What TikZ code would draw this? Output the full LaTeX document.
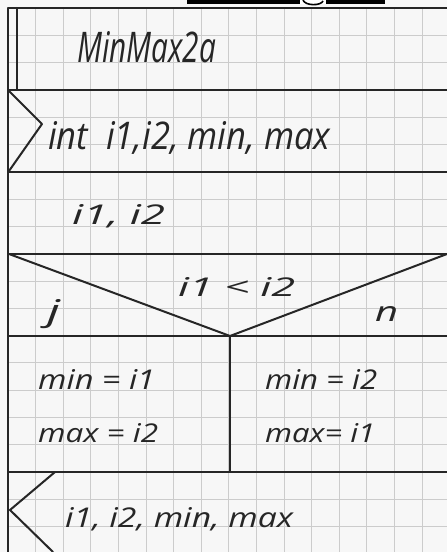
\documentclass[tikz,border=0pt]{standalone}
\usepackage{fontspec}
\setmainfont{Open Sans}
\usepackage{graphicx}
\newcommand{\hwtext}[3]{\resizebox{#1pt}{#2pt}{\itshape #3}}
\begin{document}
\begin{tikzpicture}[x=1pt,y=1pt,
  gridline/.style={draw=black!20, line width=0.9pt},
  nsline/.style={draw=black!85, line width=2pt, line cap=round, line join=round},
  hand/.style={text=black!85, inner sep=0pt, anchor=base west}]
\useasboundingbox (0,0) rectangle (447,552);
\fill[black!3] (0,0) rectangle (447,552);
% grid paper
\foreach \k in {1,...,15} \draw[gridline] ({8+\k*27.6},0) -- ({8+\k*27.6},544);
\foreach \k in {1,...,19} \draw[gridline] (8,{544-\k*27.3}) -- (447,{544-\k*27.3});
% cut-off caption bar at the top
\fill[black] (187,548) rectangle (300,552);
\fill[black] (326,548) rectangle (385,552);
\fill[white] (300,548) rectangle (326,552);
\draw[black, line width=1.6pt] (303,552) .. controls (305,546) and (321,546) .. (323,551);
% structure lines
\coordinate (tl) at (8,544);
\coordinate (tr) at (447,544);
\coordinate (bl) at (8,0);
\draw[nsline] (tr) -- (tl) -- (bl);
\draw[nsline] (17,544) -- (17,462);
\draw[nsline] (8,462) -- (447,462);
\draw[nsline] (8,380) -- (447,380);
\draw[nsline] (8,298) -- (447,298);
\draw[nsline] (8,216) -- (447,216);
\draw[nsline] (8,80) -- (447,80);
% declaration chevron
\draw[nsline] (8,462) -- (42,428) -- (9,381);
% decision
\coordinate (vtip) at (230,216);
\draw[nsline] (9,298) -- (vtip) -- (447,298);
\draw[nsline] (vtip) -- (230,80);
% output chevron
\draw[nsline] (55,80) -- (10,42) -- (53,0);
% texts
\node[hand] (title) at (77,489) {\hwtext{139}{31}{MinMax2a}};
\node[hand] (decl) at (48,402) {\hwtext{282}{28}{int\ \ i1,i2, min, max}};
\node[hand] (inp) at (72,327) {\hwtext{93}{20}{i1, i2}};
\node[hand] (cond) at (178,255) {\hwtext{117}{19}{i1 < i2}};
\node[hand] (yes) at (47,230) {\hwtext{13}{22}{j}};
\node[hand] (no) at (375,230) {\hwtext{23}{15}{n}};
\node[hand] (a1) at (38,162) {\hwtext{117}{20}{min = i1}};
\node[hand] (a2) at (38,109) {\hwtext{120}{19}{max = i2}};
\node[hand] (b1) at (265,162) {\hwtext{112}{20}{min = i2}};
\node[hand] (b2) at (265,109) {\hwtext{110}{19}{max= i1}};
\node[hand] (out) at (65,25) {\hwtext{228}{20}{i1, i2, min, max}};
\end{tikzpicture}
\end{document}
